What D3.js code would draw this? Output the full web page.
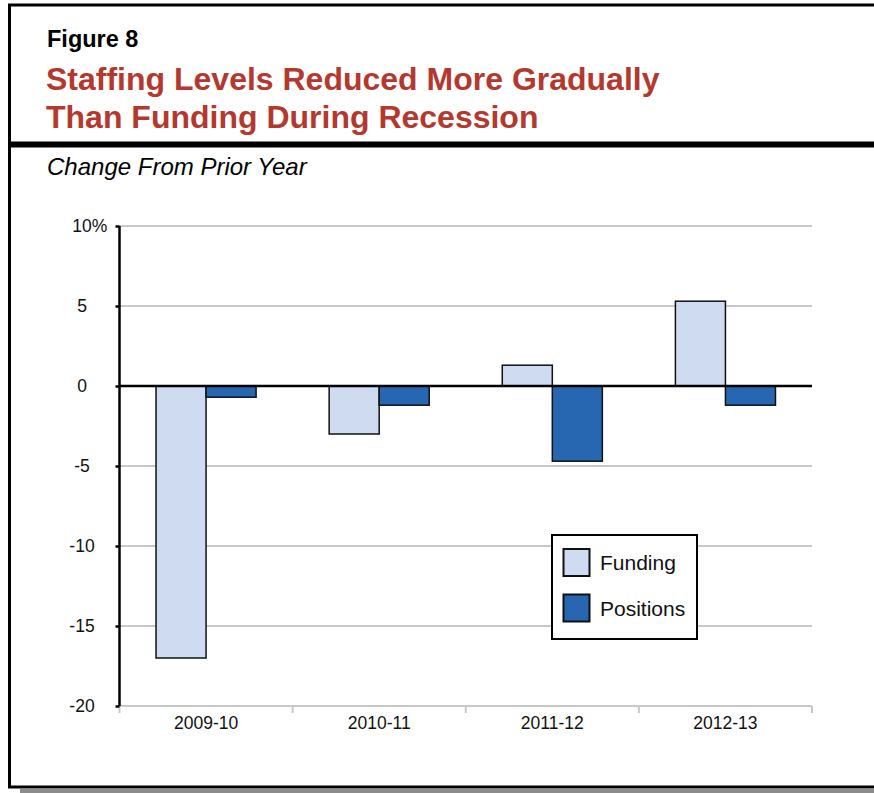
<!DOCTYPE html>
<html>
<head>
<meta charset="utf-8">
<script src="https://cdn.jsdelivr.net/npm/d3@7/dist/d3.min.js"></script>
<style>
  html, body { margin: 0; padding: 0; background: #fff; }
  svg { display: block; }
  text { font-family: "Liberation Sans", Arial, Helvetica, sans-serif; }
</style>
</head>
<body>
<svg id="chart" width="874" height="793"></svg>
<script>
// ---- Data ----
const categories = ["2009-10", "2010-11", "2011-12", "2012-13"];
const seriesNames = ["Funding", "Positions"];
const funding = [-17.0, -3.0, 1.3, 5.3];
const positions = [-0.7, -1.2, -4.7, -1.2];
const yTicks = [10, 5, 0, -5, -10, -15, -20];

const colors = { Funding: "#cfdbf1", Positions: "#2767b1" };

(function () {
const svg = d3.select("#chart");

// ---- Frame ----
svg.append("rect").attr("x", 20).attr("y", 789).attr("width", 860).attr("height", 5).attr("fill", "#8c8c8c");
svg.append("rect").attr("x", 9.5).attr("y", 5).attr("width", 880).attr("height", 782)
  .attr("fill", "#fff").attr("stroke", "#000").attr("stroke-width", 3);
svg.append("rect").attr("x", 8).attr("y", 141.5).attr("width", 870).attr("height", 6).attr("fill", "#000");

// ---- Titles ----
svg.append("text").attr("x", 47).attr("y", 47).attr("font-size", 23.5).attr("font-weight", "bold")
  .attr("fill", "#000").text("Figure 8");
svg.append("text").attr("x", 46).attr("y", 90).attr("font-size", 32).attr("font-weight", "bold")
  .attr("fill", "#b5382e").text("Staffing Levels Reduced More Gradually");
svg.append("text").attr("x", 46).attr("y", 128).attr("font-size", 32).attr("font-weight", "bold")
  .attr("fill", "#b5382e").text("Than Funding During Recession");
svg.append("text").attr("x", 47).attr("y", 175).attr("font-size", 24).attr("font-style", "italic")
  .attr("fill", "#000").text("Change From Prior Year");

// ---- Scales ----
const pLeft = 119.5, pRight = 812, pTop = 226, pBottom = 706;
const y = d3.scaleLinear().domain([-20, 10]).range([pBottom, pTop]);
const x0 = d3.scaleBand().domain(categories).range([pLeft, pRight]).padding(0);
const x1 = d3.scaleBand().domain(seriesNames).range([0, x0.bandwidth()]).paddingInner(0).paddingOuter(0.73);

// ---- Gridlines ----
svg.append("g").selectAll("line").data(yTicks.filter(d => d !== 0)).join("line")
  .attr("x1", pLeft).attr("x2", pRight)
  .attr("y1", d => y(d)).attr("y2", d => y(d))
  .attr("stroke", "#c8c8c8").attr("stroke-width", 2);

// x-axis category ticks (gray)
const bounds = categories.map(c => x0(c)).concat([pRight]);
svg.append("g").selectAll("line").data(bounds).join("line")
  .attr("x1", d => d).attr("x2", d => d)
  .attr("y1", pBottom).attr("y2", pBottom + 7)
  .attr("stroke", "#c8c8c8").attr("stroke-width", 2);

// ---- Bars ----
const rows = categories.map((c, i) => ({ cat: c, Funding: funding[i], Positions: positions[i] }));
const groups = svg.append("g").selectAll("g").data(rows).join("g")
  .attr("transform", d => `translate(${x0(d.cat)},0)`);
groups.selectAll("rect").data(d => seriesNames.map(s => ({ s, v: d[s] }))).join("rect")
  .attr("x", d => x1(d.s))
  .attr("width", x1.bandwidth())
  .attr("y", d => y(Math.max(0, d.v)))
  .attr("height", d => Math.abs(y(d.v) - y(0)))
  .attr("fill", d => colors[d.s])
  .attr("stroke", "#111").attr("stroke-width", 1.5);

// ---- Zero line and y axis ----
svg.append("line").attr("x1", pLeft).attr("x2", pRight).attr("y1", y(0)).attr("y2", y(0))
  .attr("stroke", "#000").attr("stroke-width", 2.5);

const yAxis = d3.axisLeft(y).tickValues(yTicks).tickSize(4).tickFormat("");
const yg = svg.append("g").attr("transform", `translate(${pLeft},0)`).call(yAxis);
yg.select(".domain").attr("stroke", "#000").attr("stroke-width", 2.5).attr("d", `M0,${pTop}V${pBottom}`);
yg.selectAll(".tick line").attr("stroke", "#000").attr("stroke-width", 2.5);

// y labels centered at x≈82, "%" appended to top label
yTicks.forEach(t => {
  const tx = svg.append("text").attr("x", 82).attr("y", y(t) + 6).attr("font-size", 17.5)
    .attr("text-anchor", "middle").attr("fill", "#111").text(t);
  if (t === 10) {
    const w = tx.node().getComputedTextLength();
    svg.append("text").attr("x", 82 + w / 2).attr("y", y(t) + 6).attr("font-size", 17.5)
      .attr("fill", "#111").text("%");
  }
});

// x labels
const xAxis = d3.axisBottom(x0).tickSize(0).tickPadding(0);
const xg = svg.append("g").attr("transform", `translate(0,${pBottom})`).call(xAxis);
xg.select(".domain").remove();
xg.selectAll(".tick text").attr("font-size", 17.5).attr("fill", "#111")
  .attr("font-family", "'Liberation Sans', Arial, sans-serif").attr("dy", 0).attr("y", 23);

// ---- Legend ----
const lg = svg.append("g");
lg.append("rect").attr("x", 552).attr("y", 535).attr("width", 145).attr("height", 104)
  .attr("fill", "#fff").attr("stroke", "#000").attr("stroke-width", 2);
seriesNames.forEach((s, i) => {
  const yy = 549 + i * 45.5;
  lg.append("rect").attr("x", 563.5).attr("y", yy).attr("width", 26).attr("height", 27)
    .attr("fill", colors[s]).attr("stroke", "#111").attr("stroke-width", 2);
  lg.append("text").attr("x", 600).attr("y", yy + 21).attr("font-size", 21).attr("fill", "#111").text(s);
});
})();
</script>
</body>
</html>
